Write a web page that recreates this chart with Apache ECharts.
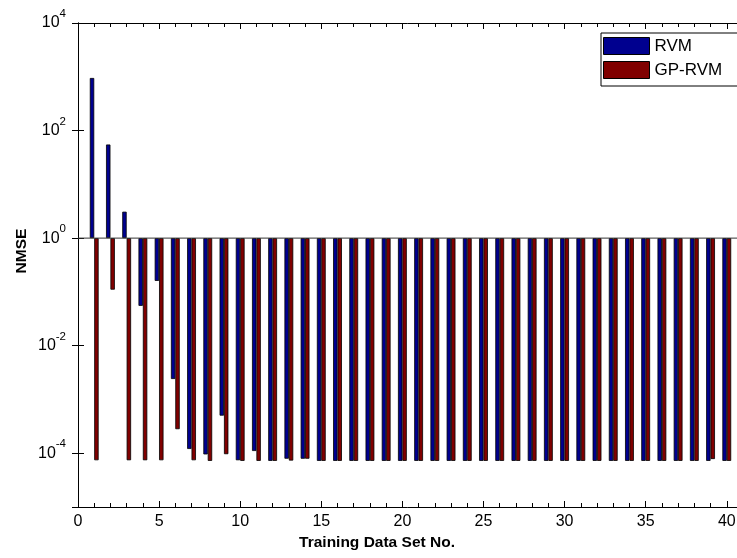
<!DOCTYPE html>
<html>
<head>
<meta charset="utf-8">
<script src="https://cdn.jsdelivr.net/npm/echarts@6/dist/echarts.min.js"></script>
<style>
html,body{margin:0;padding:0;background:#fff;}
#chart{width:737px;height:558px;background:#fff;}
</style>
</head>
<body>
<div id="chart"></div>
<script>
// Training data set numbers
const trainingSets = [1,2,3,4,5,6,7,8,9,10,11,12,13,14,15,16,17,18,19,20,
                      21,22,23,24,25,26,27,28,29,30,31,32,33,34,35,36,37,38,39,40];
// NMSE values
const rvmNMSE = [950, 55, 3.1, 0.055, 0.16, 0.0024, 1.2e-4, 9.5e-5, 5e-4, 7.4e-5,
                 1.1e-4, 7.2e-5, 7.9e-5, 7.9e-5, 7.2e-5, 7.2e-5, 7.2e-5, 7.2e-5, 7.2e-5, 7.2e-5,
                 7.2e-5, 7.2e-5, 7.2e-5, 7.2e-5, 7.2e-5, 7.2e-5, 7.2e-5, 7.2e-5, 7.2e-5, 7.2e-5,
                 7.2e-5, 7.2e-5, 7.2e-5, 7.2e-5, 7.2e-5, 7.2e-5, 7.2e-5, 7.2e-5, 7.2e-5, 7.2e-5];
const gpRvmNMSE = [7.4e-5, 0.11, 7.4e-5, 7.4e-5, 7.4e-5, 2.8e-4, 7.4e-5, 7.2e-5, 9.6e-5, 7.2e-5,
                   7.2e-5, 7.2e-5, 7.3e-5, 7.9e-5, 7.2e-5, 7.2e-5, 7.2e-5, 7.2e-5, 7.2e-5, 7.2e-5,
                   7.2e-5, 7.2e-5, 7.2e-5, 7.2e-5, 7.2e-5, 7.2e-5, 7.2e-5, 7.2e-5, 7.2e-5, 7.2e-5,
                   7.2e-5, 7.2e-5, 7.2e-5, 7.2e-5, 7.2e-5, 7.2e-5, 7.2e-5, 7.2e-5, 7.8e-5, 7.2e-5];
const seriesNames = ['RVM', 'GP-RVM'];
// bar baseline (NMSE = 1) spanning the x range
const baselineX = [0, 41];
const baselineY = [1, 1];
const xLabel = 'Training Data Set No.';
const yLabel = 'NMSE';

const FONT = 'Liberation Sans, Arial, Helvetica, sans-serif';
const chart = echarts.init(document.getElementById('chart'), null, {renderer: 'canvas'});

function supLabel(v) {
  const e = Math.round(Math.log10(v));
  if (e % 2 !== 0) return '';
  return '{b|10}{s|' + e + '}';
}
const richLabel = {
  b: {fontSize: 16, fontFamily: FONT, color: '#000', lineHeight: 29, verticalAlign: 'middle'},
  s: {fontSize: 11.5, fontFamily: FONT, color: '#000', lineHeight: 11, padding: [0, 0, 18, 0]}
};
const hiddenSplit = {show: true, lineStyle: {color: 'rgba(0,0,0,0)'}};

function xAxisDef(pos, interval, tickLen, showLine, showLabel) {
  return {
    type: 'value', min: 0, max: 41, interval: interval, position: pos,
    axisLine: {show: showLine, lineStyle: {color: '#000'}},
    axisTick: {show: true, inside: true, length: tickLen, lineStyle: {color: '#000'}},
    splitLine: hiddenSplit,
    axisLabel: showLabel ? {
      show: true, fontSize: 16, color: '#000', fontFamily: FONT, margin: 7,
      formatter: v => (v % 5 === 0 && v <= 40) ? String(v) : ''
    } : {show: false}
  };
}

function yAxisDef(pos, showLabel) {
  // log base 100 gives ticks at the even decades 1e-4, 1e-2, 1, 1e2, 1e4
  return {
    type: 'log', logBase: 100, min: 1e-5, max: 1e4, position: pos,
    axisLine: {show: true, lineStyle: {color: '#000'}},
    axisTick: {show: true, inside: true, length: 6, lineStyle: {color: '#000'}},
    axisLabel: showLabel ? {show: true, margin: 12, formatter: supLabel, rich: richLabel} : {show: false},
    splitLine: hiddenSplit
  };
}

const option = {
  animation: false,
  grid: {left: 78, top: 23, width: 665, bottom: 51, outerBoundsMode: 'none'},
  legend: {
    data: seriesNames,
    orient: 'vertical',
    left: 601, top: 33,
    itemWidth: 46, itemHeight: 17, itemGap: 6,
    padding: [4, 16, 7, 2],
    backgroundColor: '#fff',
    borderColor: '#000', borderWidth: 1,
    icon: 'rect',
    itemStyle: {borderColor: '#000', borderWidth: 1},
    textStyle: {fontSize: 17, color: '#000', fontFamily: FONT}
  },
  xAxis: [
    xAxisDef('bottom', 5, 6, true, true),
    xAxisDef('top', 5, 6, true, false),
    xAxisDef('bottom', 1, 4, false, false),
    xAxisDef('top', 1, 4, false, false)
  ],
  yAxis: [
    yAxisDef('left', true),
    yAxisDef('right', false)
  ],
  graphic: [
    {
      type: 'text', x: 377, y: 543,
      style: {text: xLabel, fontSize: 15.5, fontWeight: 'bold', fill: '#000', fontFamily: FONT,
              align: 'center', verticalAlign: 'middle'}
    },
    {
      type: 'text', x: 22, y: 251, rotation: Math.PI / 2,
      style: {text: yLabel, fontSize: 15.5, fontWeight: 'bold', fill: '#000', fontFamily: FONT,
              align: 'center', verticalAlign: 'middle'}
    }
  ],
  series: [
    {
      name: seriesNames[0], type: 'bar', xAxisIndex: 0, yAxisIndex: 0,
      data: trainingSets.map((x, i) => [x, rvmNMSE[i]]),
      barWidth: 4.4, barGap: '0%',
      itemStyle: {color: '#00008F', borderColor: '#000', borderWidth: 0.8}
    },
    {
      name: seriesNames[1], type: 'bar', xAxisIndex: 0, yAxisIndex: 0,
      data: trainingSets.map((x, i) => [x, gpRvmNMSE[i]]),
      barWidth: 4.4, barGap: '0%',
      itemStyle: {color: '#800000', borderColor: '#000', borderWidth: 0.8}
    },
    {
      name: 'baseline', type: 'line', xAxisIndex: 0, yAxisIndex: 0,
      data: baselineX.map((x, i) => [x, baselineY[i]]),
      symbol: 'none', silent: true, z: 3,
      lineStyle: {color: '#333', width: 1}
    }
  ]
};
chart.setOption(option);
</script>
</body>
</html>
